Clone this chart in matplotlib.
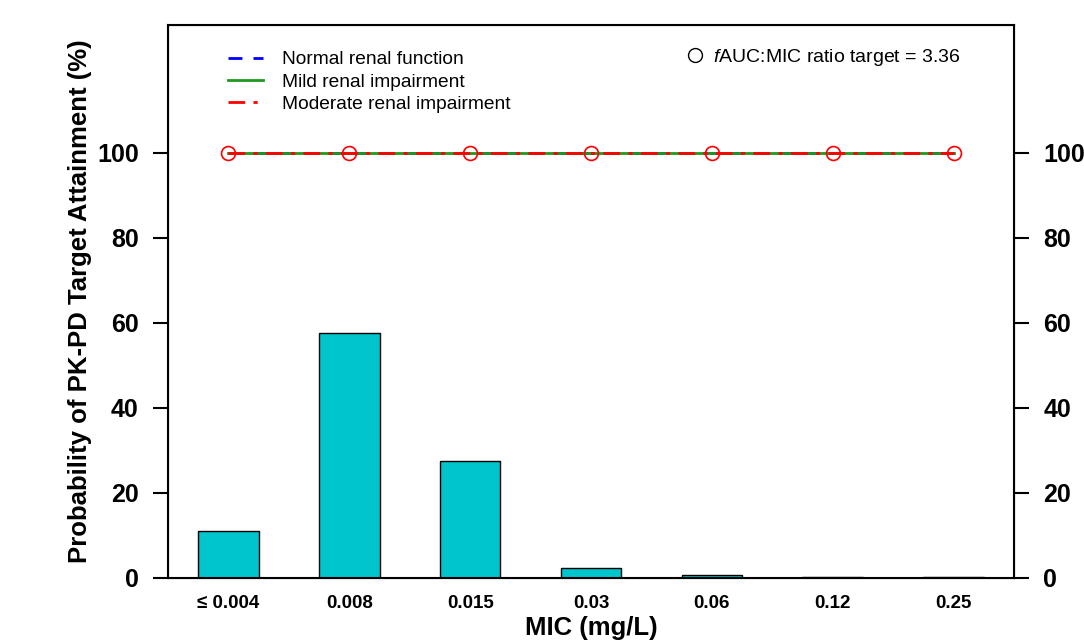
import matplotlib
matplotlib.use('Agg')
import matplotlib.pyplot as plt
from matplotlib.lines import Line2D
import numpy as np

plt.rcParams['font.family'] = ['Liberation Sans', 'DejaVu Sans']
plt.rcParams['mathtext.fontset'] = 'custom'
plt.rcParams['mathtext.it'] = 'Liberation Sans:italic'
plt.rcParams['mathtext.rm'] = 'Liberation Sans'

# Datos
mic_labels = ['\u2264 0.004', '0.008', '0.015', '0.03', '0.06', '0.12', '0.25']
mic_freq = [11.1, 57.6, 27.5, 2.3, 0.7, 0.3, 0.15]
pta_normal = [100, 100, 100, 100, 100, 100, 100]
pta_mild = [100, 100, 100, 100, 100, 100, 100]
pta_moderate = [100, 100, 100, 100, 100, 100, 100]

x = np.arange(len(mic_labels))

fig = plt.figure(figsize=(10.84, 6.44), dpi=100)
ax = fig.add_axes([0.155, 0.1025, 0.7804, 0.8587])

# Barras de distribucion de MIC
ax.bar(x, mic_freq, width=0.5, color='#00C5CD', edgecolor='black', linewidth=1)

# Curvas PTA
ax.plot(x, pta_normal, color='blue', linestyle=(0, (5, 4)), linewidth=2)
ax.plot(x, pta_mild, color='#1E9A1E', linestyle='-', linewidth=2)
ax.plot(x, pta_moderate, color='red', linestyle=(0, (6, 3, 1.5, 3)), linewidth=2,
        marker='o', markersize=10, markerfacecolor='none', markeredgecolor='red',
        markeredgewidth=1.2)

ax.set_xlim(-0.5, 6.5)
ax.set_ylim(0, 130)
ax.set_xticks(x)
ax.set_xticklabels(mic_labels, fontsize=13.5, fontweight='bold')
ax.tick_params(axis='x', length=0, pad=12)
ax.set_yticks([0, 20, 40, 60, 80, 100])
ax.tick_params(axis='y', labelsize=18, width=1.5, length=11, pad=10, direction='out')
for lab in ax.get_yticklabels():
    lab.set_fontweight('bold')

for s in ax.spines.values():
    s.set_linewidth(1.5)

ax.set_xlabel('MIC (mg/L)', fontsize=18.5, fontweight='bold', labelpad=3)
ax.set_ylabel('Probability of PK-PD Target Attainment (%)', fontsize=18.5,
              fontweight='bold', labelpad=4)

# Eje derecho
ax2 = ax.twinx()
ax2.set_ylim(0, 130)
ax2.set_yticks([0, 20, 40, 60, 80, 100])
ax2.tick_params(axis='y', labelsize=18, width=1.5, length=11, pad=10, direction='out')
for lab in ax2.get_yticklabels():
    lab.set_fontweight('bold')

# Leyendas
handles = [
    Line2D([], [], color='blue', linestyle=(0, (5, 4)), linewidth=2),
    Line2D([], [], color='#1E9A1E', linestyle='-', linewidth=2),
    Line2D([], [], color='red', linestyle=(0, (6, 3, 1.5, 3)), linewidth=2),
]
leg1 = ax.legend(handles, ['Normal renal function', 'Mild renal impairment',
                           'Moderate renal impairment'],
                 loc='upper left', bbox_to_anchor=(0.071, 0.953), frameon=False,
                 fontsize=13.8, handlelength=1.8, handletextpad=1.0,
                 labelspacing=0.25, borderpad=0, borderaxespad=0)
ax.add_artist(leg1)
circ = Line2D([], [], linestyle='none', marker='o', markersize=10,
              markerfacecolor='none', markeredgecolor='black')
ax.legend([circ], [r'$\it{f}$AUC:MIC ratio target = 3.36'], loc='upper right',
          bbox_to_anchor=(0.937, 0.961), frameon=False, fontsize=14,
          handlelength=1.0, handletextpad=0.4, borderpad=0, borderaxespad=0)

fig.savefig('out.png', dpi=100)
